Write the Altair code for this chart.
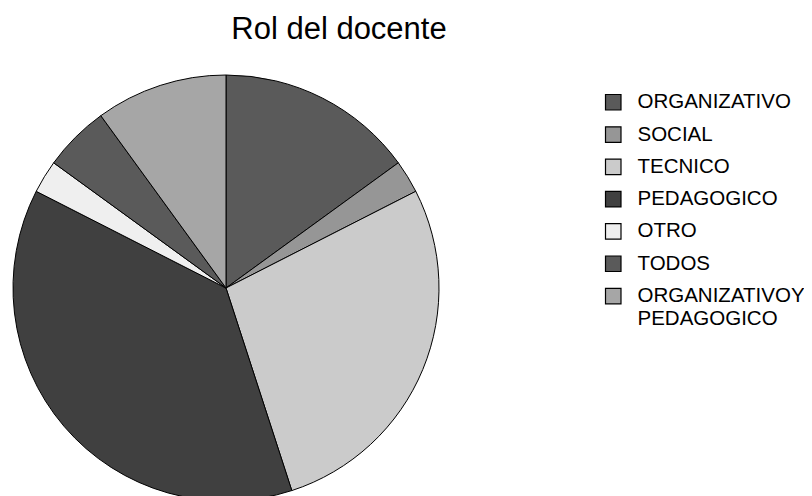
import altair as alt
import pandas as pd

title_text = "Rol del docente"
categories = ["ORGANIZATIVO", "SOCIAL", "TECNICO", "PEDAGOGICO", "OTRO", "TODOS",
              "ORGANIZATIVO Y PEDAGOGICO"]
values = [6, 1, 11, 15, 1, 2, 4]
colors = ["#5a5a5a", "#969696", "#cbcbcb", "#404040", "#efefef", "#5a5a5a", "#a6a6a6"]

df = pd.DataFrame({"cat": categories, "value": values, "idx": list(range(len(categories)))})

label_expr = ("datum.value == 'ORGANIZATIVO Y PEDAGOGICO' ? "
              "['ORGANIZATIVOY', 'PEDAGOGICO'] : datum.label")

pie = alt.Chart(df).mark_arc(radius=213, stroke="black", strokeWidth=1).encode(
    theta=alt.Theta("value:Q", stack=True),
    color=alt.Color(
        "cat:N",
        sort=categories,
        scale=alt.Scale(domain=categories, range=colors),
        legend=alt.Legend(
            title=None,
            orient="none",
            legendX=595,
            legendY=84,
            symbolType="square",
            symbolSize=240,
            symbolStrokeColor="black",
            symbolStrokeWidth=1.2,
            symbolOpacity=1,
            labelFontSize=20.5,
            labelFont="Liberation Sans",
            labelColor="black",
            labelOffset=14,
            rowPadding=11.3,
            labelLimit=400,
            padding=0,
            labelExpr=label_expr,
        ),
    ),
    order=alt.Order("idx:Q"),
    x=alt.value(218),
    y=alt.value(280),
)

title = alt.Chart(pd.DataFrame({"t": [title_text]})).mark_text(
    fontSize=31, font="Liberation Sans", align="center", baseline="alphabetic", color="black"
).encode(text="t:N", x=alt.value(331), y=alt.value(31))

chart = alt.layer(pie, title).properties(
    width=796, height=488, autosize=alt.AutoSizeParams(type="none"), padding=0
).configure_view(stroke=None)

chart.save("out.html", embed_options={"renderer": "svg", "actions": False})
